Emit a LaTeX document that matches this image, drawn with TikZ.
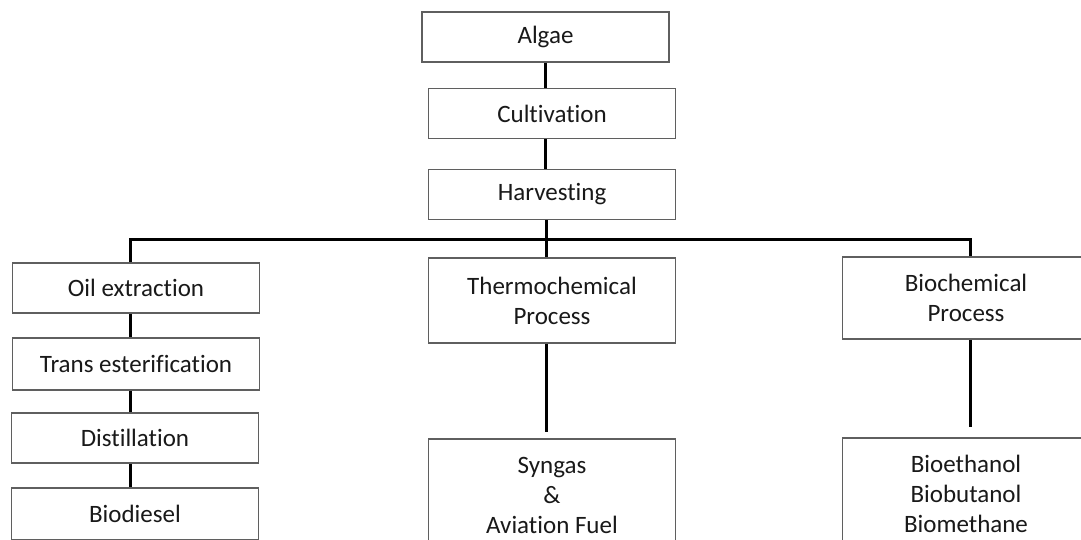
\documentclass[tikz,border=0pt]{standalone}
\usepackage{fontspec}
\setmainfont[Ligatures=NoCommon]{Carlito}
\definecolor{boxGray}{RGB}{95,95,95}
\definecolor{textDark}{RGB}{25,25,25}

\begin{document}
\begin{tikzpicture}[x=1pt,y=-1pt,
    stage/.style={draw=boxGray,line width=1.6pt,text=textDark,fill=white,
      minimum width=247pt,minimum height=50pt,align=center,inner sep=0pt,
      font=\fontsize{25}{30}\selectfont},
    link/.style={line width=3pt,black}]
  \useasboundingbox (0,0) rectangle (1081,539);
  \clip (0,0) rectangle (1081,539);

  % Main chain
  \node[stage] (algae) at (545.5,37) {Algae};
  \node[stage] (cult) at (552,113.5) {Cultivation};
  \node[stage] (harv) at (552,194.5) {Harvesting};

  % Branch points
  \coordinate (split) at (546,239);
  \coordinate (leftEnd) at (130,239);
  \coordinate (rightEnd) at (970,239);

  % Oil route
  \node[stage] (oil) at (136,288) {Oil extraction};
  \node[stage,minimum height=52pt] (trans) at (136,364) {Trans esterification};
  \node[stage] (distil) at (135,438) {Distillation};
  \node[stage,minimum height=52pt] (diesel) at (135,514) {Biodiesel};

  % Thermochemical route
  \node[stage,minimum height=85pt] (thermo) at (552,300.5) {Thermochemical\\Process};
  \node[stage,minimum height=112pt] (syngas) at (552,495) {Syngas\\\&\\Aviation Fuel};

  % Biochemical route
  \node[stage,minimum height=82pt] (bio) at (966,298) {Biochemical\\Process};
  \node[stage,minimum height=112pt] (alcohols) at (966,494) {Bioethanol\\Biobutanol\\Biomethane};

  % Connectors
  \draw[link] (algae.south) -- (algae.south |- cult.north);
  \draw[link] (cult.south -| algae) -- (harv.north -| algae);
  \draw[link] (harv.south -| split) -- (thermo.north -| split);
  \draw[link] (leftEnd |- oil.north) -- (leftEnd) -- (rightEnd) -- (rightEnd |- bio.north);
  \draw[link] (oil.south -| leftEnd) -- (trans.north -| leftEnd);
  \draw[link] (trans.south -| leftEnd) -- (distil.north -| leftEnd);
  \draw[link] (distil.south -| leftEnd) -- (diesel.north -| leftEnd);
  \draw[link,shorten >=6pt] (thermo.south -| split) -- (syngas.north -| split);
  \draw[link,shorten >=10pt] (bio.south -| rightEnd) -- (alcohols.north -| rightEnd);
\end{tikzpicture}
\end{document}
